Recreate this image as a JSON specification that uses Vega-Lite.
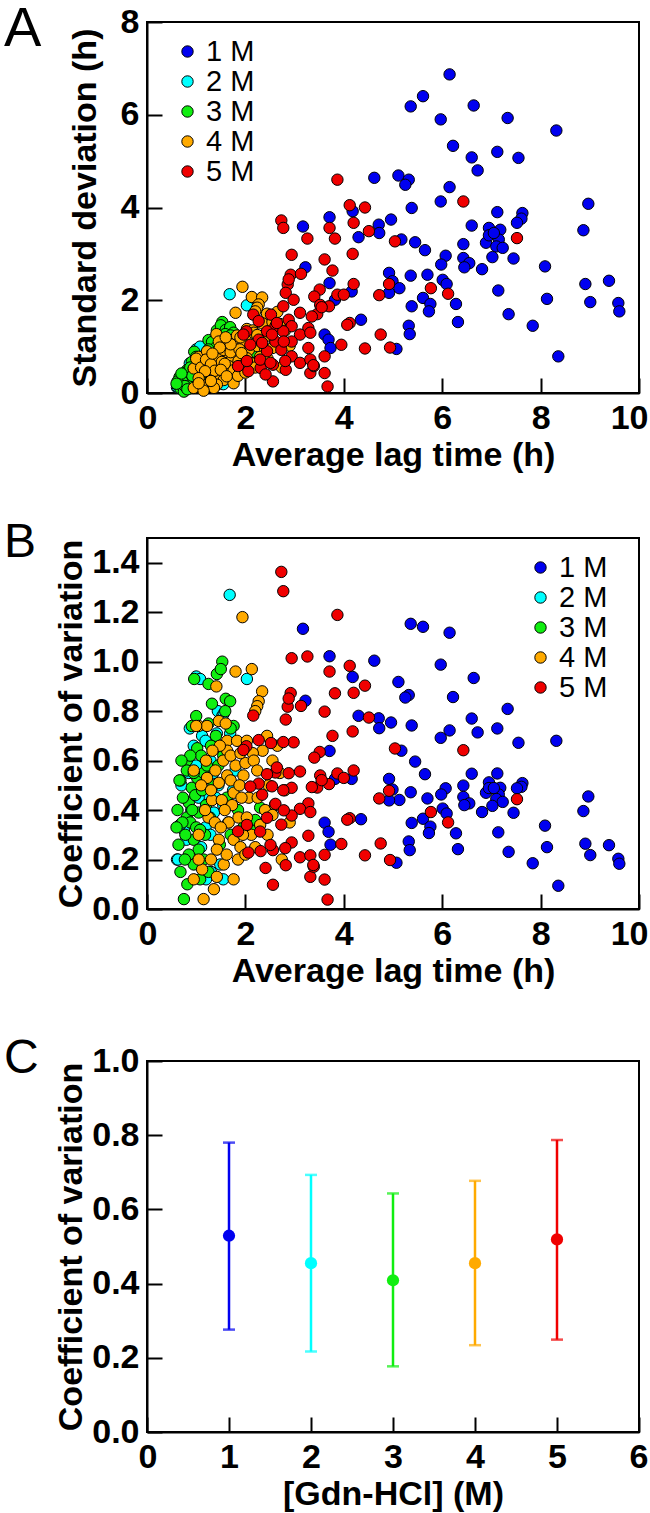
{
"$schema": "https://vega.github.io/schema/vega-lite/v6.json",
"background": "white",
"padding": {"left": 3, "top": 0, "right": 0, "bottom": 0},
"spacing": 45,
"config": {
  "font": "Liberation Sans",
  "view": {"stroke": "black", "strokeWidth": 2},
  "axis": {"domainColor": "black", "domainWidth": 2, "tickColor": "black", "tickWidth": 2, "tickSize": -15, "labelFont": "Liberation Sans", "labelFontSize": 34, "labelFontWeight": "bold", "labelColor": "black", "labelPadding": 23, "labelFlush": false, "labelOverlap": false, "titleFont": "Liberation Sans", "titleFontSize": 34, "titleFontWeight": "bold", "titleColor": "black", "grid": false},
  "axisX": {"labelFlush": true, "labelFlushOffset": 9, "titlePadding": 3},
  "legend": {"title": null, "orient": "none", "labelFont": "Liberation Sans", "labelFontSize": 29, "labelFontWeight": "normal", "labelColor": "black", "symbolType": "circle", "symbolSize": 130, "symbolStrokeColor": "black", "symbolStrokeWidth": 1, "symbolOpacity": 1, "rowPadding": 0, "labelOffset": 4},
  "title": {"fontWeight": "normal", "anchor": "start", "frame": "group", "color": "black", "font": "Liberation Sans", "dx": -143}
},
"datasets": {
"pts": [
{"g":"1 M","x":6.15,"s":6.87,"c":1.117},{"g":"1 M","x":5.61,"s":6.40,"c":1.141},{"g":"1 M","x":5.36,"s":6.18,"c":1.153},{"g":"1 M","x":6.64,"s":6.20,"c":0.934},{"g":"1 M","x":5.97,"s":5.90,"c":0.988},{"g":"1 M","x":7.33,"s":5.93,"c":0.809},{"g":"1 M","x":8.32,"s":5.66,"c":0.680},{"g":"1 M","x":6.22,"s":5.33,"c":0.857},{"g":"1 M","x":7.12,"s":5.20,"c":0.730},{"g":"1 M","x":6.60,"s":5.08,"c":0.770},
{"g":"1 M","x":7.55,"s":5.07,"c":0.672},{"g":"1 M","x":6.72,"s":4.80,"c":0.714},{"g":"1 M","x":4.62,"s":4.64,"c":1.004},{"g":"1 M","x":5.11,"s":4.69,"c":0.918},{"g":"1 M","x":5.32,"s":4.60,"c":0.865},{"g":"1 M","x":5.25,"s":4.49,"c":0.855},{"g":"1 M","x":6.15,"s":4.44,"c":0.722},{"g":"1 M","x":5.97,"s":4.13,"c":0.692},{"g":"1 M","x":5.38,"s":3.99,"c":0.742},{"g":"1 M","x":8.97,"s":4.08,"c":0.455},
{"g":"1 M","x":7.12,"s":3.90,"c":0.548},{"g":"1 M","x":7.63,"s":3.88,"c":0.509},{"g":"1 M","x":7.61,"s":3.76,"c":0.494},{"g":"1 M","x":7.52,"s":3.67,"c":0.488},{"g":"1 M","x":3.71,"s":3.79,"c":1.022},{"g":"1 M","x":4.96,"s":3.74,"c":0.754},{"g":"1 M","x":3.17,"s":3.59,"c":1.133},{"g":"1 M","x":4.71,"s":3.63,"c":0.771},{"g":"1 M","x":4.72,"s":3.45,"c":0.731},{"g":"1 M","x":4.30,"s":3.36,"c":0.781},
{"g":"1 M","x":6.60,"s":3.61,"c":0.547},{"g":"1 M","x":8.87,"s":3.51,"c":0.396},{"g":"1 M","x":6.95,"s":3.56,"c":0.512},{"g":"1 M","x":7.18,"s":3.52,"c":0.490},{"g":"1 M","x":6.89,"s":3.24,"c":0.470},{"g":"1 M","x":7.15,"s":3.31,"c":0.463},{"g":"1 M","x":7.10,"s":3.16,"c":0.445},{"g":"1 M","x":7.23,"s":3.13,"c":0.433},{"g":"1 M","x":5.17,"s":3.31,"c":0.640},{"g":"1 M","x":5.45,"s":3.25,"c":0.596},
{"g":"1 M","x":5.65,"s":3.08,"c":0.545},{"g":"1 M","x":6.43,"s":3.21,"c":0.499},{"g":"1 M","x":6.07,"s":2.96,"c":0.488},{"g":"1 M","x":6.43,"s":2.91,"c":0.453},{"g":"1 M","x":6.55,"s":2.80,"c":0.427},{"g":"1 M","x":6.45,"s":2.71,"c":0.420},{"g":"1 M","x":7.02,"s":2.93,"c":0.417},{"g":"1 M","x":7.45,"s":2.90,"c":0.389},{"g":"1 M","x":6.81,"s":2.67,"c":0.392},{"g":"1 M","x":5.98,"s":2.77,"c":0.463},
{"g":"1 M","x":8.09,"s":2.73,"c":0.337},{"g":"1 M","x":3.22,"s":2.71,"c":0.842},{"g":"1 M","x":4.92,"s":2.59,"c":0.526},{"g":"1 M","x":5.36,"s":2.53,"c":0.472},{"g":"1 M","x":5.70,"s":2.55,"c":0.447},{"g":"1 M","x":6.01,"s":2.44,"c":0.406},{"g":"1 M","x":6.09,"s":2.35,"c":0.386},{"g":"1 M","x":3.71,"s":2.37,"c":0.639},{"g":"1 M","x":4.99,"s":2.41,"c":0.483},{"g":"1 M","x":5.13,"s":2.26,"c":0.441},
{"g":"1 M","x":4.92,"s":2.16,"c":0.439},{"g":"1 M","x":4.16,"s":2.19,"c":0.526},{"g":"1 M","x":8.91,"s":2.35,"c":0.264},{"g":"1 M","x":9.39,"s":2.42,"c":0.258},{"g":"1 M","x":5.61,"s":2.05,"c":0.365},{"g":"1 M","x":7.14,"s":2.21,"c":0.310},{"g":"1 M","x":3.82,"s":2.01,"c":0.526},{"g":"1 M","x":5.38,"s":1.87,"c":0.348},{"g":"1 M","x":5.76,"s":1.92,"c":0.333},{"g":"1 M","x":5.73,"s":1.76,"c":0.307},
{"g":"1 M","x":6.28,"s":1.92,"c":0.306},{"g":"1 M","x":8.13,"s":2.03,"c":0.250},{"g":"1 M","x":9.01,"s":1.96,"c":0.218},{"g":"1 M","x":9.58,"s":1.94,"c":0.203},{"g":"1 M","x":9.60,"s":1.76,"c":0.183},{"g":"1 M","x":7.35,"s":1.70,"c":0.231},{"g":"1 M","x":4.35,"s":1.58,"c":0.363},{"g":"1 M","x":6.32,"s":1.53,"c":0.242},{"g":"1 M","x":7.84,"s":1.45,"c":0.185},{"g":"1 M","x":5.32,"s":1.45,"c":0.273},
{"g":"1 M","x":5.34,"s":1.27,"c":0.238},{"g":"1 M","x":3.61,"s":1.26,"c":0.349},{"g":"1 M","x":3.69,"s":1.15,"c":0.312},{"g":"1 M","x":3.73,"s":0.97,"c":0.260},{"g":"1 M","x":5.07,"s":0.95,"c":0.187},{"g":"1 M","x":8.36,"s":0.79,"c":0.094},{"g":"1 M","x":4.18,"s":3.92,"c":0.938},{"g":"1 M","x":6.95,"s":3.40,"c":0.489},{"g":"1 M","x":7.05,"s":3.45,"c":0.489},
{"g":"2 M","x":1.68,"s":2.13,"c":1.27},{"g":"2 M","x":2.03,"s":1.89,"c":0.93},{"g":"2 M","x":1.00,"s":0.94,"c":0.94},{"g":"2 M","x":1.08,"s":1.00,"c":0.93},{"g":"2 M","x":0.87,"s":0.64,"c":0.73},{"g":"2 M","x":1.44,"s":1.15,"c":0.80},{"g":"2 M","x":1.53,"s":1.19,"c":0.78},{"g":"2 M","x":1.69,"s":1.20,"c":0.71},{"g":"2 M","x":0.95,"s":0.63,"c":0.66},{"g":"2 M","x":1.12,"s":0.78,"c":0.70},
{"g":"2 M","x":1.42,"s":1.01,"c":0.71},{"g":"2 M","x":1.56,"s":1.23,"c":0.79},{"g":"2 M","x":1.19,"s":0.81,"c":0.68},{"g":"2 M","x":1.49,"s":0.98,"c":0.66},{"g":"2 M","x":1.29,"s":0.77,"c":0.60},{"g":"2 M","x":1.19,"s":0.67,"c":0.56},{"g":"2 M","x":0.61,"s":0.12,"c":0.20},{"g":"2 M","x":1.36,"s":0.53,"c":0.39},{"g":"2 M","x":1.19,"s":0.39,"c":0.33},{"g":"2 M","x":1.29,"s":0.39,"c":0.30},
{"g":"2 M","x":0.75,"s":0.24,"c":0.32},{"g":"2 M","x":1.49,"s":0.27,"c":0.18},{"g":"2 M","x":0.67,"s":0.23,"c":0.34},{"g":"2 M","x":0.63,"s":0.13,"c":0.20},{"g":"2 M","x":1.35,"s":0.74,"c":0.55},{"g":"2 M","x":1.45,"s":0.73,"c":0.50},{"g":"2 M","x":1.60,"s":0.99,"c":0.62},{"g":"2 M","x":1.25,"s":0.56,"c":0.45},{"g":"2 M","x":1.40,"s":0.63,"c":0.45},{"g":"2 M","x":1.55,"s":0.65,"c":0.42},
{"g":"2 M","x":1.65,"s":0.58,"c":0.35},{"g":"2 M","x":1.75,"s":0.84,"c":0.48},{"g":"2 M","x":0.80,"s":0.22,"c":0.28},{"g":"2 M","x":0.70,"s":0.35,"c":0.50},{"g":"2 M","x":0.90,"s":0.36,"c":0.40},{"g":"2 M","x":1.05,"s":0.47,"c":0.45},{"g":"2 M","x":1.10,"s":0.28,"c":0.25},{"g":"2 M","x":1.30,"s":0.20,"c":0.15},{"g":"2 M","x":1.55,"s":0.19,"c":0.12},{"g":"2 M","x":1.20,"s":0.14,"c":0.12},
{"g":"2 M","x":0.85,"s":0.47,"c":0.55},{"g":"2 M","x":1.00,"s":0.58,"c":0.58},{"g":"2 M","x":1.80,"s":1.01,"c":0.56},
{"g":"3 M","x":1.53,"s":1.53,"c":1.00},{"g":"3 M","x":0.96,"s":0.89,"c":0.93},{"g":"3 M","x":1.42,"s":1.35,"c":0.95},{"g":"3 M","x":1.50,"s":1.46,"c":0.97},{"g":"3 M","x":1.25,"s":1.14,"c":0.91},{"g":"3 M","x":1.60,"s":1.36,"c":0.85},{"g":"3 M","x":1.69,"s":1.42,"c":0.84},{"g":"3 M","x":1.32,"s":1.10,"c":0.83},{"g":"3 M","x":1.59,"s":1.27,"c":0.80},{"g":"3 M","x":1.76,"s":1.30,"c":0.74},
{"g":"3 M","x":1.70,"s":1.24,"c":0.73},{"g":"3 M","x":0.91,"s":0.67,"c":0.74},{"g":"3 M","x":1.02,"s":0.66,"c":0.65},{"g":"3 M","x":0.81,"s":0.49,"c":0.60},{"g":"3 M","x":1.10,"s":0.68,"c":0.62},{"g":"3 M","x":0.68,"s":0.35,"c":0.52},{"g":"3 M","x":0.81,"s":0.45,"c":0.56},{"g":"3 M","x":0.91,"s":0.45,"c":0.49},{"g":"3 M","x":1.02,"s":0.54,"c":0.53},{"g":"3 M","x":1.15,"s":0.63,"c":0.55},
{"g":"3 M","x":0.85,"s":0.37,"c":0.43},{"g":"3 M","x":0.81,"s":0.30,"c":0.37},{"g":"3 M","x":1.05,"s":0.41,"c":0.39},{"g":"3 M","x":0.64,"s":0.17,"c":0.26},{"g":"3 M","x":0.95,"s":0.27,"c":0.28},{"g":"3 M","x":0.91,"s":0.19,"c":0.21},{"g":"3 M","x":0.68,"s":0.10,"c":0.15},{"g":"3 M","x":0.95,"s":0.17,"c":0.18},{"g":"3 M","x":0.75,"s":0.03,"c":0.04},{"g":"3 M","x":1.08,"s":0.13,"c":0.12},
{"g":"3 M","x":2.30,"s":0.94,"c":0.41},{"g":"3 M","x":1.96,"s":0.65,"c":0.33},{"g":"3 M","x":0.66,"s":0.34,"c":0.52},{"g":"3 M","x":0.73,"s":0.33,"c":0.45},{"g":"3 M","x":0.78,"s":0.23,"c":0.30},{"g":"3 M","x":0.88,"s":0.31,"c":0.35},{"g":"3 M","x":0.98,"s":0.45,"c":0.46},{"g":"3 M","x":1.12,"s":0.54,"c":0.48},{"g":"3 M","x":1.20,"s":0.50,"c":0.42},{"g":"3 M","x":1.18,"s":0.35,"c":0.30},
{"g":"3 M","x":1.05,"s":0.25,"c":0.24},{"g":"3 M","x":0.85,"s":0.19,"c":0.22},{"g":"3 M","x":1.28,"s":0.47,"c":0.37},{"g":"3 M","x":1.35,"s":0.68,"c":0.50},{"g":"3 M","x":1.45,"s":0.84,"c":0.58},{"g":"3 M","x":1.40,"s":0.98,"c":0.70},{"g":"3 M","x":1.30,"s":0.86,"c":0.66},{"g":"3 M","x":0.88,"s":0.55,"c":0.62},{"g":"3 M","x":0.95,"s":0.52,"c":0.55},{"g":"3 M","x":1.22,"s":0.71,"c":0.58},
{"g":"3 M","x":1.00,"s":0.33,"c":0.33},{"g":"3 M","x":0.72,"s":0.25,"c":0.35},{"g":"3 M","x":0.62,"s":0.25,"c":0.40},{"g":"3 M","x":0.77,"s":0.15,"c":0.20},{"g":"3 M","x":1.15,"s":0.23,"c":0.20},{"g":"3 M","x":0.82,"s":0.08,"c":0.10},{"g":"3 M","x":1.25,"s":0.19,"c":0.15},{"g":"3 M","x":1.55,"s":0.96,"c":0.62},{"g":"3 M","x":1.62,"s":0.73,"c":0.45},{"g":"3 M","x":1.85,"s":0.74,"c":0.40},
{"g":"3 M","x":2.20,"s":0.79,"c":0.36},{"g":"3 M","x":2.10,"s":0.67,"c":0.32},{"g":"3 M","x":1.70,"s":0.51,"c":0.30},{"g":"3 M","x":1.48,"s":0.38,"c":0.26},{"g":"3 M","x":0.92,"s":0.37,"c":0.40},{"g":"3 M","x":1.08,"s":0.35,"c":0.32},{"g":"3 M","x":0.70,"s":0.42,"c":0.60},{"g":"3 M","x":0.60,"s":0.20,"c":0.33},{"g":"3 M","x":1.00,"s":0.78,"c":0.78},{"g":"3 M","x":1.25,"s":0.94,"c":0.75},
{"g":"4 M","x":2.13,"s":2.07,"c":0.97},{"g":"4 M","x":1.80,"s":1.73,"c":0.96},{"g":"4 M","x":1.41,"s":1.27,"c":0.90},{"g":"4 M","x":2.34,"s":2.06,"c":0.88},{"g":"4 M","x":2.27,"s":1.91,"c":0.84},{"g":"4 M","x":2.24,"s":1.84,"c":0.82},{"g":"4 M","x":2.20,"s":1.76,"c":0.80},{"g":"4 M","x":1.05,"s":0.78,"c":0.74},{"g":"4 M","x":1.22,"s":0.90,"c":0.74},{"g":"4 M","x":1.46,"s":1.11,"c":0.76},
{"g":"4 M","x":1.63,"s":1.11,"c":0.68},{"g":"4 M","x":1.83,"s":1.24,"c":0.68},{"g":"4 M","x":2.03,"s":1.38,"c":0.68},{"g":"4 M","x":2.44,"s":1.71,"c":0.70},{"g":"4 M","x":2.35,"s":1.50,"c":0.64},{"g":"4 M","x":2.15,"s":1.35,"c":0.63},{"g":"4 M","x":1.63,"s":1.04,"c":0.64},{"g":"4 M","x":1.80,"s":1.04,"c":0.58},{"g":"4 M","x":2.00,"s":1.18,"c":0.59},{"g":"4 M","x":2.17,"s":1.30,"c":0.60},
{"g":"4 M","x":0.95,"s":0.53,"c":0.56},{"g":"4 M","x":1.22,"s":0.65,"c":0.53},{"g":"4 M","x":1.39,"s":0.78,"c":0.56},{"g":"4 M","x":1.46,"s":0.74,"c":0.51},{"g":"4 M","x":1.63,"s":0.88,"c":0.54},{"g":"4 M","x":1.96,"s":1.06,"c":0.54},{"g":"4 M","x":2.24,"s":1.25,"c":0.56},{"g":"4 M","x":2.47,"s":1.24,"c":0.50},{"g":"4 M","x":1.76,"s":0.83,"c":0.47},{"g":"4 M","x":1.32,"s":0.58,"c":0.44},
{"g":"4 M","x":1.52,"s":0.67,"c":0.44},{"g":"4 M","x":1.73,"s":0.73,"c":0.42},{"g":"4 M","x":2.07,"s":0.93,"c":0.45},{"g":"4 M","x":1.25,"s":0.46,"c":0.37},{"g":"4 M","x":1.66,"s":0.58,"c":0.35},{"g":"4 M","x":1.86,"s":0.69,"c":0.37},{"g":"4 M","x":2.03,"s":0.75,"c":0.37},{"g":"4 M","x":1.46,"s":0.41,"c":0.28},{"g":"4 M","x":1.76,"s":0.49,"c":0.28},{"g":"4 M","x":1.90,"s":0.48,"c":0.25},
{"g":"4 M","x":1.42,"s":0.34,"c":0.24},{"g":"4 M","x":1.56,"s":0.28,"c":0.18},{"g":"4 M","x":1.12,"s":0.18,"c":0.16},{"g":"4 M","x":0.95,"s":0.11,"c":0.12},{"g":"4 M","x":1.42,"s":0.18,"c":0.13},{"g":"4 M","x":1.76,"s":0.21,"c":0.12},{"g":"4 M","x":1.36,"s":0.11,"c":0.08},{"g":"4 M","x":1.15,"s":0.05,"c":0.04},{"g":"4 M","x":2.74,"s":0.55,"c":0.20},{"g":"4 M","x":1.94,"s":2.29,"c":1.18},
{"g":"4 M","x":1.00,"s":0.74,"c":0.74},{"g":"4 M","x":1.10,"s":0.55,"c":0.50},{"g":"4 M","x":1.20,"s":0.72,"c":0.60},{"g":"4 M","x":1.30,"s":0.62,"c":0.48},{"g":"4 M","x":1.55,"s":0.93,"c":0.60},{"g":"4 M","x":1.70,"s":0.88,"c":0.52},{"g":"4 M","x":1.88,"s":0.94,"c":0.50},{"g":"4 M","x":1.92,"s":0.86,"c":0.45},{"g":"4 M","x":2.25,"s":1.01,"c":0.45},{"g":"4 M","x":2.40,"s":0.96,"c":0.40},
{"g":"4 M","x":2.60,"s":1.09,"c":0.42},{"g":"4 M","x":2.70,"s":1.49,"c":0.55},{"g":"4 M","x":2.55,"s":1.53,"c":0.60},{"g":"4 M","x":2.65,"s":1.75,"c":0.66},{"g":"4 M","x":2.80,"s":1.34,"c":0.48},{"g":"4 M","x":2.30,"s":0.78,"c":0.34},{"g":"4 M","x":2.12,"s":0.64,"c":0.30},{"g":"4 M","x":1.95,"s":0.59,"c":0.30},{"g":"4 M","x":1.58,"s":0.63,"c":0.40},{"g":"4 M","x":1.38,"s":0.48,"c":0.35},
{"g":"4 M","x":1.18,"s":0.47,"c":0.40},{"g":"4 M","x":1.05,"s":0.32,"c":0.30},{"g":"4 M","x":1.50,"s":0.50,"c":0.33},{"g":"4 M","x":1.62,"s":0.36,"c":0.22},{"g":"4 M","x":1.30,"s":0.26,"c":0.20},{"g":"4 M","x":1.05,"s":0.21,"c":0.20},{"g":"4 M","x":1.85,"s":0.37,"c":0.20},{"g":"4 M","x":2.00,"s":0.44,"c":0.22},{"g":"4 M","x":2.20,"s":0.55,"c":0.25},{"g":"4 M","x":2.45,"s":0.74,"c":0.30},
{"g":"4 M","x":1.70,"s":1.05,"c":0.62},{"g":"4 M","x":1.48,"s":0.98,"c":0.66},{"g":"4 M","x":1.33,"s":0.85,"c":0.64},{"g":"4 M","x":1.60,"s":1.20,"c":0.75},{"g":"4 M","x":1.90,"s":1.20,"c":0.63},{"g":"4 M","x":2.55,"s":0.97,"c":0.38},{"g":"4 M","x":2.90,"s":1.02,"c":0.35},
{"g":"5 M","x":3.87,"s":4.60,"c":1.189},{"g":"5 M","x":4.12,"s":4.05,"c":0.983},{"g":"5 M","x":4.43,"s":4.00,"c":0.903},{"g":"5 M","x":4.20,"s":3.67,"c":0.874},{"g":"5 M","x":6.43,"s":4.13,"c":0.642},{"g":"5 M","x":2.73,"s":3.72,"c":1.363},{"g":"5 M","x":2.77,"s":3.56,"c":1.285},{"g":"5 M","x":3.71,"s":3.56,"c":0.960},{"g":"5 M","x":3.82,"s":3.33,"c":0.872},{"g":"5 M","x":4.51,"s":3.49,"c":0.774},
{"g":"5 M","x":3.26,"s":3.33,"c":1.021},{"g":"5 M","x":5.04,"s":3.27,"c":0.649},{"g":"5 M","x":7.52,"s":3.34,"c":0.444},{"g":"5 M","x":2.94,"s":2.98,"c":1.014},{"g":"5 M","x":4.18,"s":3.00,"c":0.718},{"g":"5 M","x":3.61,"s":2.88,"c":0.798},{"g":"5 M","x":3.77,"s":2.64,"c":0.700},{"g":"5 M","x":2.92,"s":2.55,"c":0.873},{"g":"5 M","x":3.13,"s":2.57,"c":0.821},{"g":"5 M","x":2.86,"s":2.34,"c":0.818},
{"g":"5 M","x":2.82,"s":2.16,"c":0.766},{"g":"5 M","x":4.20,"s":2.35,"c":0.560},{"g":"5 M","x":4.92,"s":2.35,"c":0.478},{"g":"5 M","x":3.51,"s":2.23,"c":0.635},{"g":"5 M","x":3.87,"s":2.12,"c":0.548},{"g":"5 M","x":5.77,"s":2.26,"c":0.392},{"g":"5 M","x":6.12,"s":2.14,"c":0.350},{"g":"5 M","x":4.72,"s":2.11,"c":0.447},{"g":"5 M","x":3.40,"s":2.08,"c":0.612},{"g":"5 M","x":2.98,"s":2.01,"c":0.674},
{"g":"5 M","x":2.77,"s":1.87,"c":0.675},{"g":"5 M","x":3.70,"s":1.87,"c":0.505},{"g":"5 M","x":3.46,"s":1.70,"c":0.491},{"g":"5 M","x":3.11,"s":1.73,"c":0.556},{"g":"5 M","x":4.12,"s":1.51,"c":0.367},{"g":"5 M","x":2.88,"s":1.58,"c":0.549},{"g":"5 M","x":2.52,"s":1.69,"c":0.671},{"g":"5 M","x":2.16,"s":1.69,"c":0.782},{"g":"5 M","x":2.27,"s":1.55,"c":0.683},{"g":"5 M","x":2.61,"s":1.44,"c":0.552},
{"g":"5 M","x":2.94,"s":1.44,"c":0.490},{"g":"5 M","x":3.28,"s":1.40,"c":0.427},{"g":"5 M","x":4.75,"s":1.26,"c":0.265},{"g":"5 M","x":2.02,"s":1.33,"c":0.658},{"g":"5 M","x":2.44,"s":1.33,"c":0.545},{"g":"5 M","x":2.77,"s":1.33,"c":0.480},{"g":"5 M","x":3.11,"s":1.26,"c":0.405},{"g":"5 M","x":3.95,"s":1.04,"c":0.263},{"g":"5 M","x":4.43,"s":0.96,"c":0.217},{"g":"5 M","x":4.94,"s":0.98,"c":0.198},
{"g":"5 M","x":3.28,"s":0.97,"c":0.296},{"g":"5 M","x":2.94,"s":1.11,"c":0.378},{"g":"5 M","x":2.61,"s":1.11,"c":0.425},{"g":"5 M","x":2.27,"s":1.15,"c":0.507},{"g":"5 M","x":2.10,"s":1.04,"c":0.495},{"g":"5 M","x":2.44,"s":0.90,"c":0.369},{"g":"5 M","x":2.73,"s":0.93,"c":0.341},{"g":"5 M","x":2.94,"s":0.79,"c":0.269},{"g":"5 M","x":3.11,"s":0.65,"c":0.209},{"g":"5 M","x":3.32,"s":0.72,"c":0.217},
{"g":"5 M","x":3.61,"s":0.79,"c":0.219},{"g":"5 M","x":1.85,"s":0.58,"c":0.314},{"g":"5 M","x":2.06,"s":0.47,"c":0.228},{"g":"5 M","x":2.31,"s":0.54,"c":0.234},{"g":"5 M","x":2.56,"s":0.61,"c":0.238},{"g":"5 M","x":2.82,"s":0.50,"c":0.177},{"g":"5 M","x":2.56,"s":0.25,"c":0.098},{"g":"5 M","x":3.32,"s":0.43,"c":0.130},{"g":"5 M","x":3.61,"s":0.43,"c":0.119},{"g":"5 M","x":3.67,"s":0.14,"c":0.038},
{"g":"5 M","x":2.88,"s":2.45,"c":0.851},{"g":"5 M","x":3.52,"s":1.90,"c":0.540},{"g":"5 M","x":3.35,"s":1.65,"c":0.493},{"g":"5 M","x":2.64,"s":1.51,"c":0.572},{"g":"5 M","x":1.96,"s":1.26,"c":0.643},{"g":"5 M","x":2.54,"s":1.26,"c":0.496},{"g":"5 M","x":2.78,"s":1.11,"c":0.399},{"g":"5 M","x":3.32,"s":1.30,"c":0.392},{"g":"5 M","x":2.34,"s":1.08,"c":0.462},{"g":"5 M","x":2.03,"s":0.69,"c":0.340},
{"g":"5 M","x":2.30,"s":0.72,"c":0.313},{"g":"5 M","x":2.51,"s":0.65,"c":0.259},{"g":"5 M","x":2.81,"s":0.69,"c":0.246},{"g":"5 M","x":3.39,"s":0.58,"c":0.171},{"g":"5 M","x":2.41,"s":0.40,"c":0.166},{"g":"5 M","x":4.00,"s":2.12,"c":0.530},{"g":"5 M","x":3.55,"s":1.85,"c":0.521},{"g":"5 M","x":3.38,"s":0.60,"c":0.178},{"g":"5 M","x":4.07,"s":1.47,"c":0.361}
],
"cv": [
{"g":"1 M","m":1,"mean":0.529,"lo":0.276,"hi":0.780},
{"g":"2 M","m":2,"mean":0.455,"lo":0.217,"hi":0.693},
{"g":"3 M","m":3,"mean":0.409,"lo":0.177,"hi":0.643},
{"g":"4 M","m":4,"mean":0.455,"lo":0.234,"hi":0.677},
{"g":"5 M","m":5,"mean":0.519,"lo":0.249,"hi":0.787}
]
},
"resolve": {"legend": {"color": "independent"}},
"vconcat": [
{
  "width": 492, "height": 371,
  "title": {"text": "A", "fontSize": 56, "offset": -53},
  "data": {"name": "pts"},
  "mark": {"type": "circle", "size": 130, "opacity": 1, "stroke": "black", "strokeWidth": 1},
  "encoding": {
    "x": {"field": "x", "type": "quantitative", "scale": {"domain": [0, 10], "nice": false}, "axis": {"values": [0, 2, 4, 6, 8, 10], "title": "Average lag time (h)"}},
    "y": {"field": "s", "type": "quantitative", "scale": {"domain": [0, 8], "nice": false}, "axis": {"values": [0, 2, 4, 6, 8], "title": "Standard deviation (h)", "titlePadding": 18}},
    "color": {"field": "g", "type": "nominal", "scale": {"domain": ["1 M", "2 M", "3 M", "4 M", "5 M"], "range": ["#0000F0", "#00FFFF", "#10EE10", "#FFAA00", "#F00000"]}, "legend": {"legendX": 26, "legendY": 15}}
  }
},
{
  "width": 492, "height": 371,
  "title": {"text": "B", "fontSize": 48, "offset": -29},
  "data": {"name": "pts"},
  "mark": {"type": "circle", "size": 130, "opacity": 1, "stroke": "black", "strokeWidth": 1},
  "encoding": {
    "x": {"field": "x", "type": "quantitative", "scale": {"domain": [0, 10], "nice": false}, "axis": {"values": [0, 2, 4, 6, 8, 10], "title": "Average lag time (h)"}},
    "y": {"field": "c", "type": "quantitative", "scale": {"domain": [0, 1.5], "nice": false}, "axis": {"values": [0, 0.2, 0.4, 0.6, 0.8, 1.0, 1.2, 1.4], "format": ".1f", "title": "Coefficient of variation", "titlePadding": 3}},
    "color": {"field": "g", "type": "nominal", "scale": {"domain": ["1 M", "2 M", "3 M", "4 M", "5 M"], "range": ["#0000F0", "#00FFFF", "#10EE10", "#FFAA00", "#F00000"]}, "legend": {"legendX": 379, "legendY": 15}}
  }
},
{
  "width": 492, "height": 371,
  "title": {"text": "C", "fontSize": 48, "offset": -39},
  "data": {"name": "cv"},
  "encoding": {
    "x": {"field": "m", "type": "quantitative", "scale": {"domain": [0, 6], "nice": false}, "axis": {"values": [0, 1, 2, 3, 4, 5, 6], "title": "[Gdn-HCl] (M)"}},
    "color": {"field": "g", "type": "nominal", "scale": {"domain": ["1 M", "2 M", "3 M", "4 M", "5 M"], "range": ["#0000F0", "#00FFFF", "#10EE10", "#FFAA00", "#F00000"]}, "legend": null}
  },
  "layer": [
    {"mark": {"type": "errorbar", "ticks": {"size": 12, "thickness": 2.5}, "thickness": 2.5},
     "encoding": {"y": {"field": "lo", "type": "quantitative", "scale": {"domain": [0, 1], "nice": false}, "axis": {"values": [0, 0.2, 0.4, 0.6, 0.8, 1.0], "format": ".1f", "title": "Coefficient of variation", "titlePadding": 3}}, "y2": {"field": "hi"}}},
    {"mark": {"type": "circle", "size": 150, "opacity": 1},
     "encoding": {"y": {"field": "mean", "type": "quantitative"}}}
  ]
}
]
}
